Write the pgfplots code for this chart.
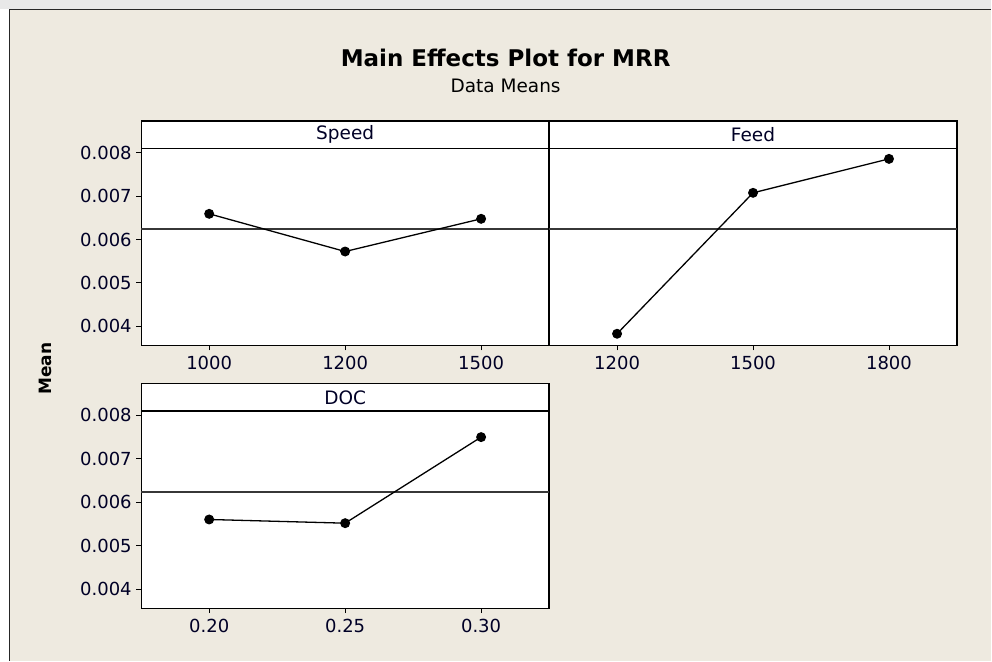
\documentclass[border=0pt]{standalone}
\usepackage{pgfplots}
\pgfplotsset{compat=1.18}
\usepackage{fontspec}
\setmainfont{DejaVu Sans}
\definecolor{bg}{RGB}{238,234,224}
\definecolor{topstrip}{RGB}{232,232,232}
\definecolor{meanline}{RGB}{55,55,55}
\pgfplotsset{
  mepanel/.style={
    scale only axis,
    width=408.2bp, height=197.4bp,
    xmin=0.5, xmax=3.5, xtick={1,2,3},
    ymin=0.0035632, ymax=0.008101,
    ytick={0.004,0.005,0.006,0.007,0.008},
    yticklabels={0.004,0.005,0.006,0.007,0.008},
    tick pos=left, tick align=outside,
    major tick length=5bp,
    every tick/.style={black, line width=1bp},
    axis line style={black, line width=1.3bp},
    axis background/.style={fill=white},
    tick label style={font=\fontsize{18bp}{20bp}\selectfont, text=black!85!blue},
    /pgf/number format/assume math mode=true,
    xticklabel style={yshift=-2bp},
    yticklabel style={xshift=-1bp},
    clip=false,
    anchor=south west,
  },
  data/.style={black, line width=1.3bp, mark=*, mark size=4.3bp, mark options={fill=black}},
  mean/.style={meanline, line width=1.4bp, forget plot},
}
\newcommand{\strip}[1]{%
  \draw[black, line width=1.3bp, fill=white] (rel axis cs:0,1) rectangle ([yshift=27.3bp]rel axis cs:1,1);
  \node[font=\fontsize{18.5bp}{20bp}\selectfont, text=black!85!blue] at ([yshift=13.6bp]rel axis cs:0.5,1) {#1};
}
\begin{document}
\begin{tikzpicture}
\fill[bg] (0,0) rectangle (992bp,661bp);
\fill[topstrip] (0,651.5bp) rectangle (992bp,661bp);
\fill[white] (0,0) rectangle (9bp,651.5bp);
\draw[black!85, line width=1.5bp] (9.5bp,0) -- (9.5bp,651.5bp) -- (992bp,651.5bp);

\node[font=\bfseries\fontsize{23bp}{26bp}\selectfont] at (506bp,603bp) {Main Effects Plot for MRR};
\node[font=\fontsize{18.5bp}{20bp}\selectfont] at (506bp,575bp) {Data Means};
\node[font=\bfseries\fontsize{17bp}{19bp}\selectfont, rotate=90] at (45bp,292bp) {Mean};

% Speed
\begin{axis}[mepanel, at={(141.3bp,315.3bp)}, xticklabels={1000,1200,1500}]
\addplot[mean] coordinates {(0.5,0.00624) (3.5,0.00624)};
\addplot[data] coordinates {(1,0.006591) (2,0.005724) (3,0.006476)};
\strip{Speed}
\end{axis}

% Feed
\begin{axis}[mepanel, at={(549.5bp,315.3bp)}, xticklabels={1200,1500,1800}, ytick=\empty]
\addplot[mean] coordinates {(0.5,0.00624) (3.5,0.00624)};
\addplot[data] coordinates {(1,0.003832) (2,0.007074) (3,0.007855)};
\strip{Feed}
\end{axis}

% DOC
\begin{axis}[mepanel, at={(141.3bp,52.3bp)}, xticklabels={0.20,0.25,0.30}]
\addplot[mean] coordinates {(0.5,0.00624) (3.5,0.00624)};
\addplot[data] coordinates {(1,0.005605) (2,0.005520) (3,0.007500)};
\strip{DOC}
\end{axis}
\end{tikzpicture}
\end{document}
